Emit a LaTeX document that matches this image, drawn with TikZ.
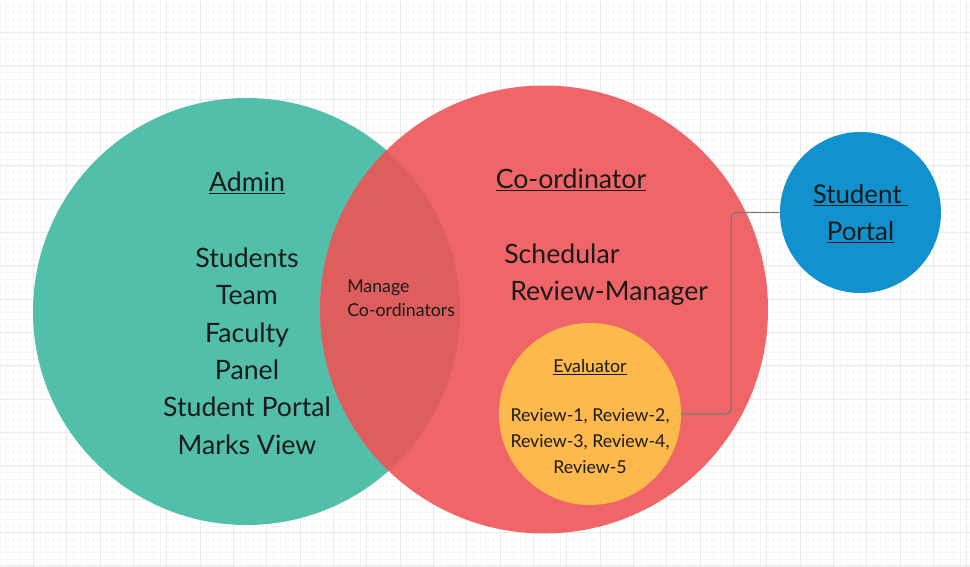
\documentclass[tikz,border=0pt]{standalone}
\usepackage{fontspec}
\setmainfont{Lato}
\definecolor{gridmajor}{HTML}{EAEAEA}
\definecolor{gridminor}{HTML}{F7F7F7}
\definecolor{admingreen}{HTML}{52BFAA}
\definecolor{coordred}{HTML}{F06567}
\definecolor{overlapred}{HTML}{DE5E5E}
\definecolor{evalyellow}{HTML}{FDB94B}
\definecolor{portalblue}{HTML}{1192CF}
\definecolor{linkgray}{HTML}{7A7A7A}
\definecolor{inktext}{HTML}{1A1A1A}
\tikzset{
  bigtext/.style={font=\fontsize{20}{28}\selectfont, text=inktext, align=center, inner sep=0pt},
  midtext/.style={font=\fontsize{19.4}{27.75}\selectfont, text=inktext, align=center, inner sep=0pt},
  smalltext/.style={font=\fontsize{13.3}{19.2}\selectfont, text=inktext, inner sep=0pt},
  disc/.style={circle, inner sep=0pt, draw=none},
  link/.style={draw=linkgray, line width=0.9pt, rounded corners=4pt}
}
\begin{document}
\begin{tikzpicture}[x=0.75pt,y=-0.75pt]
  % page and background grid
  \fill[white] (0,0) rectangle (970,567);
  \useasboundingbox (0,0) rectangle (970,567);
  \foreach \i in {0,...,146} {
    \draw[gridminor, line width=0.4pt] ({\i*6.6667},0) -- ({\i*6.6667},567);
  }
  \foreach \j in {0,...,86} {
    \draw[gridminor, line width=0.4pt] (0,{\j*6.6667-0.8}) -- (970,{\j*6.6667-0.8});
  }
  \foreach \i in {1,...,29} {
    \draw[gridmajor, line width=0.6pt] ({\i*33.333},0) -- ({\i*33.333},567);
  }
  \foreach \j in {1,...,17} {
    \draw[gridmajor, line width=0.6pt] (0,{\j*33.333-0.8}) -- (970,{\j*33.333-0.8});
  }

  % the two overlapping sets
  \node[disc, fill=admingreen, minimum size=320.25pt] (admin) at (246.5,311.5) {};
  \node[disc, fill=coordred, minimum size=336pt] (coord) at (544,309.5) {};
  \begin{scope}
    \clip (246.5,311.5) circle[radius=213.5];
    \fill[overlapred] (544,309.5) circle[radius=224];
  \end{scope}

  % evaluator and student portal
  \node[disc, fill=evalyellow, minimum size=136.5pt] (eval) at (590,414) {};
  \node[disc, fill=portalblue, minimum size=120.75pt] (portal) at (860.5,212.5) {};
  \draw[link] (eval.east) -- ++(50,0) |- (portal.west);

  % admin labels
  \node[bigtext] (adminTitle) at (247,183) {\underline{Admin}};
  \node[bigtext] (adminItems) at (247,351) {Students\\Team\\Faculty\\Panel\\Student Portal\\Marks View};

  % shared area
  \node[smalltext, align=left, anchor=west] (manage) at (347,298) {Manage\\[-1pt]Co-ordinators};

  % coordinator labels
  \node[bigtext] (coordTitle) at (571,180) {\underline{Co-ordinator}};
  \node[bigtext, anchor=west] (sched) at (504,254) {Schedular};
  \node[bigtext, anchor=west] (revman) at (510,293) {Review-Manager};

  % evaluator labels
  \node[smalltext] (evalTitle) at (590,367) {\underline{Evaluator}};
  \node[smalltext, align=center] (reviews) at (590,441) {Review-1, Review-2,\\Review-3, Review-4,\\Review-5};

  % student portal label
  \node[midtext] (portalText) at (860.5,214) {\underline{Student\ }\\\underline{Portal}};
\end{tikzpicture}
\end{document}
